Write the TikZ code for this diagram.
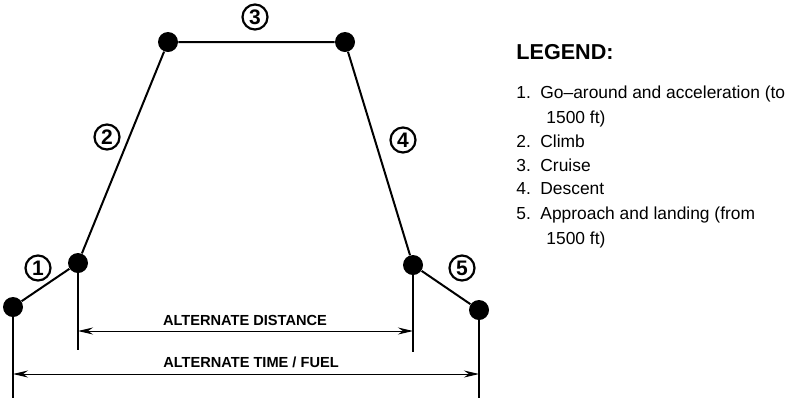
\documentclass[tikz,border=0pt]{standalone}
\usepackage{fontspec}
\setmainfont{Liberation Sans}
\usetikzlibrary{arrows.meta, positioning}

\tikzset{
  dot/.style={circle, fill=black, inner sep=0pt, minimum size=10pt},
  seg/.style={line width=1pt},
  tick/.style={line width=1pt},
  dim/.style={line width=0.5pt, {Stealth[length=7.5pt,width=3.5pt]}-{Stealth[length=7.5pt,width=3.5pt]}},
  dimlabel/.style={font=\fontsize{7.3}{8}\selectfont\bfseries, inner sep=0pt},
  phase/.style={circle, draw, line width=1.1pt, inner sep=0pt, minimum size=12.5pt, font=\fontsize{10.5}{11}\selectfont\bfseries},
  legitem/.style={anchor=base west, inner sep=0pt, font=\fontsize{8.7}{9}\selectfont}
}

\begin{document}
\begin{tikzpicture}[x=0.5pt, y=-0.5pt]
\useasboundingbox (0,0) rectangle (792,398);
% profile points
\node [dot] (p1) at (13,307) {};
\node [dot] (p2) at (78,263) {};
\node [dot] (p3) at (168,42) {};
\node [dot] (p4) at (345,42) {};
\node [dot] (p5) at (413,265) {};
\node [dot] (p6) at (479,310) {};
\draw [seg] (p1) -- (p2) -- (p3) -- (p4) -- (p5) -- (p6);
% extension lines
\coordinate (b1) at (13,398);
\coordinate (b2) at (78,350);
\coordinate (b5) at (413,352);
\coordinate (b6) at (479,398);
\draw [tick] (p1.center) -- (b1);
\draw [tick] (p2.center) -- (b2);
\draw [tick] (p5.center) -- (b5);
\draw [tick] (p6.center) -- (b6);
% dimensions
\coordinate (d2) at (78,331);
\coordinate (d5) at (413,331);
\coordinate (t1) at (13,374);
\coordinate (t6) at (479,374);
\draw [dim] (d2) -- (d5);
\draw [dim] (t1) -- (t6);
\node [dimlabel] (dist) at (245,320) {ALTERNATE DISTANCE};
\node [dimlabel] (fuel) at (251,362) {ALTERNATE TIME / FUEL};
% phase numbers
\node [phase] (n1) at (38,268) {1};
\node [phase] (n2) at (107,137) {2};
\node [phase] (n3) at (255,17) {3};
\node [phase] (n4) at (403,140) {4};
\node [phase] (n5) at (462,268) {5};
% legend
\node [anchor=west, inner sep=0pt, font=\fontsize{10.8}{11}\selectfont\bfseries] (leg) at (516,52) {LEGEND:};
\node [legitem] (l1) at (516,98) {1.};
\node [legitem] (l1t) at (540,98) {Go–around and acceleration (to};
\node [legitem] (l1c) at (546,123) {1500 ft)};
\node [legitem] (l2) at (516,147) {2.};
\node [legitem] (l2t) at (540,147) {Climb};
\node [legitem] (l3) at (516,171) {3.};
\node [legitem] (l3t) at (540,171) {Cruise};
\node [legitem] (l4) at (516,194) {4.};
\node [legitem] (l4t) at (540,194) {Descent};
\node [legitem] (l5) at (516,219) {5.};
\node [legitem] (l5t) at (540,219) {Approach and landing (from};
\node [legitem] (l5c) at (546,244) {1500 ft)};
\end{tikzpicture}
\end{document}
